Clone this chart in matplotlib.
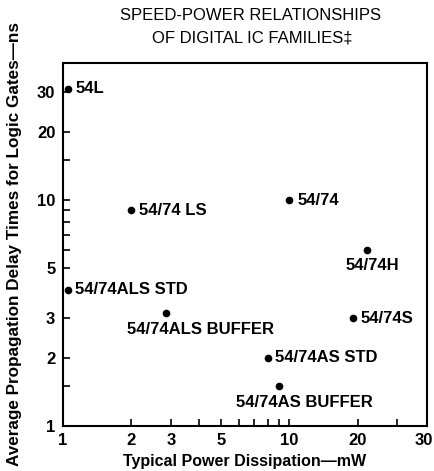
import matplotlib
matplotlib.use("Agg")
import matplotlib.pyplot as plt
import matplotlib.transforms as mtransforms
from matplotlib.ticker import FixedLocator, FixedFormatter, NullFormatter

plt.rcParams['font.family'] = ['Liberation Sans', 'DejaVu Sans']

families = ["54L", "54/74 LS", "54/74", "54/74H", "54/74ALS STD",
            "54/74ALS BUFFER", "54/74S", "54/74AS STD", "54/74AS BUFFER"]
power_mw = [1.05, 2.0, 10.0, 22.0, 1.05, 2.85, 19.0, 8.0, 9.0]
delay_ns = [31.0, 9.0, 10.0, 6.0, 4.0, 3.15, 3.0, 2.0, 1.5]
# label placement: 'r' right of marker, 'b' below marker
placement = ['r', 'r', 'r', 'b', 'r', 'b', 'r', 'r', 'b']
# horizontal shift (points) of the labels placed below their marker
below_shift = [0, 0, 0, 3.5, 0, 24.5, 0, 0, 18.5]

x_major = [1, 2, 3, 5, 10, 20, 30]
x_minor = [4, 6, 7, 8, 9]
y_major = [1, 2, 3, 5, 10, 20, 30]
y_minor = [1.5, 6, 7, 8, 9, 15]

fig = plt.figure(figsize=(4.35, 4.71), dpi=100)
ax = fig.add_axes([63/435, 1-426/471, (427-63)/435, (426-63)/471])
ax.set_xscale('log')
ax.set_yscale('log')
ax.set_xlim(1, 40.5)
ax.set_ylim(1, 40.4)

ax.plot(power_mw, delay_ns, 'o', color='black', markersize=4.5, linestyle='none', clip_on=False)

for name, x, y, p, dx in zip(families, power_mw, delay_ns, placement, below_shift):
    if p == 'r':
        ax.annotate(name, (x, y), xytext=(5.5, 0), textcoords='offset points',
                    ha='left', va='center', fontsize=12, fontweight='bold')
    else:
        ax.annotate(name, (x, y), xytext=(dx, -6), textcoords='offset points',
                    ha='center', va='top', fontsize=12, fontweight='bold')

ax.xaxis.set_major_locator(FixedLocator(x_major))
ax.xaxis.set_major_formatter(FixedFormatter([str(v) for v in x_major]))
ax.xaxis.set_minor_locator(FixedLocator(x_minor))
ax.xaxis.set_minor_formatter(NullFormatter())
ax.yaxis.set_major_locator(FixedLocator(y_major))
ax.yaxis.set_major_formatter(FixedFormatter([str(v) for v in y_major]))
ax.yaxis.set_minor_locator(FixedLocator(y_minor))
ax.yaxis.set_minor_formatter(NullFormatter())

ax.tick_params(which='both', direction='in', length=5, width=1.2, top=False, right=False)
ax.tick_params(axis='x', which='major', pad=5, labelsize=12)
ax.tick_params(axis='y', which='major', pad=5.5, labelsize=12)
for lab in ax.get_xticklabels() + ax.get_yticklabels():
    lab.set_fontweight('bold')

# the "30" label on the x axis sits further right in the original
xlabels = ax.get_xticklabels()
shift = mtransforms.ScaledTranslation(19/72, 0, fig.dpi_scale_trans)
xlabels[-1].set_transform(xlabels[-1].get_transform() + shift)

for s in ax.spines.values():
    s.set_linewidth(1.5)

ax.set_xlabel('Typical Power Dissipation\u2014mW', fontsize=11.5, fontweight='bold')
ax.xaxis.set_label_coords(0.5, -0.078)
ax.set_ylabel('Average Propagation Delay Times for Logic Gates\u2014ns', fontsize=12.3, fontweight='bold')
ax.yaxis.set_label_coords(-0.113, 0.5)

fig.text(251/435, 1-16/471, 'SPEED-POWER RELATIONSHIPS', ha='center', va='center', fontsize=12)
fig.text(252/435, 1-38/471, 'OF DIGITAL IC FAMILIES\u2021', ha='center', va='center', fontsize=12)

fig.savefig('out.png', dpi=100)
